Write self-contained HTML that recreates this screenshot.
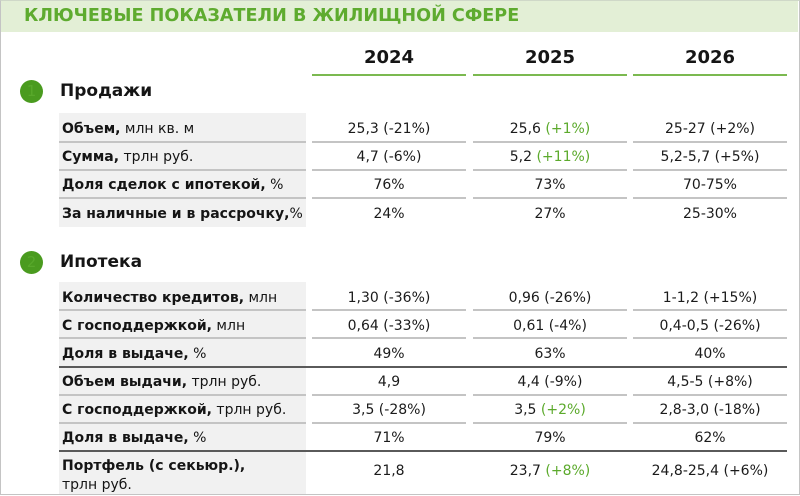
<!DOCTYPE html>
<html><head><meta charset="utf-8">
<style>
*{margin:0;padding:0;box-sizing:border-box}
html,body{width:800px;height:496px;background:#fff;overflow:hidden}
body{position:relative;font-family:"DejaVu Sans","Liberation Sans","Noto Sans CJK SC",sans-serif;color:#1b1b1b}
.frame{position:absolute;left:0;top:0;width:800px;height:495px;border:1px solid #c4c4c4;border-top-color:#cfd8c8}
.title{position:absolute;left:1px;top:1px;width:797px;height:31px;background:#e3efd6}
.title span{position:absolute;left:23px;top:5px;font-size:17.6px;font-weight:bold;color:#5eab2f;white-space:nowrap}
.year{position:absolute;top:47px;width:154px;text-align:center;font-size:18px;font-weight:bold;color:#151515}
.yl{position:absolute;top:74px;height:2px;width:154px;background:#7bb950}
.circ{position:absolute;width:23px;height:23px;border-radius:50%;background:#4a9b1f;color:#58a82b;font-size:15px;line-height:23px;text-align:center}
.sec{position:absolute;left:60px;font-size:17px;font-weight:bold;color:#151515}
.lbg{position:absolute;left:59px;width:247px;background:#f1f1f1}
.lab{position:absolute;left:62px;font-size:14px;white-space:nowrap;color:#151515}
.lab b{font-weight:bold}
.val{position:absolute;width:154px;text-align:center;font-size:14px;white-space:nowrap;color:#1b1b1b}
.g{color:#5caa2c}
.ln{position:absolute;height:2px;background:#c4c4c4}
.dk{position:absolute;left:59px;width:728px;height:2px;background:#5a5a5a}
</style></head><body>
<div class="frame"></div>
<div class="title"><span>КЛЮЧЕВЫЕ ПОКАЗАТЕЛИ В ЖИЛИЩНОЙ СФЕРЕ</span></div>

<div class="year" style="left:312px">2024</div>
<div class="year" style="left:473px">2025</div>
<div class="year" style="left:633px">2026</div>
<div class="yl" style="left:312px"></div>
<div class="yl" style="left:473px"></div>
<div class="yl" style="left:633px"></div>

<div class="circ" style="left:20px;top:80px">1</div>
<div class="sec" style="top:81px">Продажи</div>

<div class="circ" style="left:20px;top:251px">2</div>
<div class="sec" style="top:252px">Ипотека</div>

<div class="lbg" style="top:113px;height:114px"></div>
<div class="lbg" style="top:282px;height:212px"></div>

<div class="ln" style="top:141px;left:59px;width:247px"></div>
<div class="ln" style="top:141px;left:312px;width:154px"></div>
<div class="ln" style="top:141px;left:473px;width:154px"></div>
<div class="ln" style="top:141px;left:633px;width:154px"></div>
<div class="ln" style="top:169px;left:59px;width:247px"></div>
<div class="ln" style="top:169px;left:312px;width:154px"></div>
<div class="ln" style="top:169px;left:473px;width:154px"></div>
<div class="ln" style="top:169px;left:633px;width:154px"></div>
<div class="ln" style="top:197px;left:59px;width:247px"></div>
<div class="ln" style="top:197px;left:312px;width:154px"></div>
<div class="ln" style="top:197px;left:473px;width:154px"></div>
<div class="ln" style="top:197px;left:633px;width:154px"></div>

<div class="ln" style="top:309px;left:59px;width:247px"></div>
<div class="ln" style="top:309px;left:312px;width:154px"></div>
<div class="ln" style="top:309px;left:473px;width:154px"></div>
<div class="ln" style="top:309px;left:633px;width:154px"></div>
<div class="ln" style="top:337px;left:59px;width:247px"></div>
<div class="ln" style="top:337px;left:312px;width:154px"></div>
<div class="ln" style="top:337px;left:473px;width:154px"></div>
<div class="ln" style="top:337px;left:633px;width:154px"></div>
<div class="dk" style="top:366px"></div>
<div class="ln" style="top:394px;left:59px;width:247px"></div>
<div class="ln" style="top:394px;left:312px;width:154px"></div>
<div class="ln" style="top:394px;left:473px;width:154px"></div>
<div class="ln" style="top:394px;left:633px;width:154px"></div>
<div class="ln" style="top:422px;left:59px;width:247px"></div>
<div class="ln" style="top:422px;left:312px;width:154px"></div>
<div class="ln" style="top:422px;left:473px;width:154px"></div>
<div class="ln" style="top:422px;left:633px;width:154px"></div>
<div class="dk" style="top:450px"></div>

<div class="lab" style="top:121px"><b>Объем,</b> млн кв. м</div>
<div class="val" style="left:312px;top:121px">25,3 (-21%)</div>
<div class="val" style="left:473px;top:121px">25,6 <span class="g">(+1%)</span></div>
<div class="val" style="left:633px;top:121px">25-27 (+2%)</div>

<div class="lab" style="top:149px"><b>Сумма,</b> трлн руб.</div>
<div class="val" style="left:312px;top:149px">4,7 (-6%)</div>
<div class="val" style="left:473px;top:149px">5,2 <span class="g">(+11%)</span></div>
<div class="val" style="left:633px;top:149px">5,2-5,7 (+5%)</div>

<div class="lab" style="top:177px"><b>Доля сделок с ипотекой,</b> %</div>
<div class="val" style="left:312px;top:177px">76%</div>
<div class="val" style="left:473px;top:177px">73%</div>
<div class="val" style="left:633px;top:177px">70-75%</div>

<div class="lab" style="top:206px"><b>За наличные и в рассрочку,</b>%</div>
<div class="val" style="left:312px;top:206px">24%</div>
<div class="val" style="left:473px;top:206px">27%</div>
<div class="val" style="left:633px;top:206px">25-30%</div>

<div class="lab" style="top:290px"><b>Количество кредитов,</b> млн</div>
<div class="val" style="left:312px;top:290px">1,30 (-36%)</div>
<div class="val" style="left:473px;top:290px">0,96 (-26%)</div>
<div class="val" style="left:633px;top:290px">1-1,2 (+15%)</div>

<div class="lab" style="top:318px"><b>С господдержкой,</b> млн</div>
<div class="val" style="left:312px;top:318px">0,64 (-33%)</div>
<div class="val" style="left:473px;top:318px">0,61 (-4%)</div>
<div class="val" style="left:633px;top:318px">0,4-0,5 (-26%)</div>

<div class="lab" style="top:346px"><b>Доля в выдаче,</b> %</div>
<div class="val" style="left:312px;top:346px">49%</div>
<div class="val" style="left:473px;top:346px">63%</div>
<div class="val" style="left:633px;top:346px">40%</div>

<div class="lab" style="top:374px"><b>Объем выдачи,</b> трлн руб.</div>
<div class="val" style="left:312px;top:374px">4,9</div>
<div class="val" style="left:473px;top:374px">4,4 (-9%)</div>
<div class="val" style="left:633px;top:374px">4,5-5 (+8%)</div>

<div class="lab" style="top:402px"><b>С господдержкой,</b> трлн руб.</div>
<div class="val" style="left:312px;top:402px">3,5 (-28%)</div>
<div class="val" style="left:473px;top:402px">3,5 <span class="g">(+2%)</span></div>
<div class="val" style="left:633px;top:402px">2,8-3,0 (-18%)</div>

<div class="lab" style="top:430px"><b>Доля в выдаче,</b> %</div>
<div class="val" style="left:312px;top:430px">71%</div>
<div class="val" style="left:473px;top:430px">79%</div>
<div class="val" style="left:633px;top:430px">62%</div>

<div class="lab" style="top:457px;line-height:19px"><b>Портфель (с секьюр.),</b><br>трлн руб.</div>
<div class="val" style="left:312px;top:463px">21,8</div>
<div class="val" style="left:473px;top:463px">23,7 <span class="g">(+8%)</span></div>
<div class="val" style="left:633px;top:463px">24,8-25,4 (+6%)</div>
</body></html>
